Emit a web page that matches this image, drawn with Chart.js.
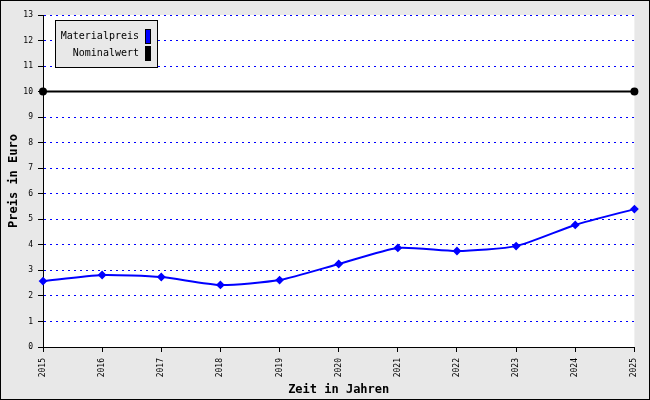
<!DOCTYPE html>
<html><head><meta charset="utf-8">
<script src="https://cdn.jsdelivr.net/npm/chart.js@4"></script>
<style>html,body{margin:0;padding:0;background:#e8e8e8}#wrap{width:650px;height:400px}</style>
</head><body><div id="wrap"><canvas id="c" width="650" height="400"></canvas></div>
<script>
const years = ['2015','2016','2017','2018','2019','2020','2021','2022','2023','2024','2025'];
const materialpreis = [2.58, 2.82, 2.74, 2.43, 2.62, 3.25, 3.88, 3.76, 3.95, 4.78, 5.40];
const nominalwert = [10, 10, 10, 10, 10, 10, 10, 10, 10, 10, 10];
const seriesNames = ['Materialpreis', 'Nominalwert'];
const yTitle = 'Preis in Euro';
const xTitle = 'Zeit in Jahren';

const MONO = "'DejaVu Sans Mono', 'Liberation Mono', monospace";

const bgPlugin = {
  id: 'bg',
  beforeDraw(chart) {
    const ctx = chart.ctx, a = chart.chartArea;
    ctx.save();
    ctx.fillStyle = '#e8e8e8';
    ctx.fillRect(0, 0, chart.width, chart.height);
    ctx.fillStyle = '#ffffff';
    ctx.fillRect(a.left, a.top, a.right - a.left, a.bottom - a.top);
    ctx.restore();
  },
  afterDraw(chart) {
    const ctx = chart.ctx;
    ctx.save();
    ctx.strokeStyle = '#000';
    ctx.lineWidth = 1;
    ctx.strokeRect(0.5, 0.5, chart.width - 1, chart.height - 1);
    // legend box
    const x0 = 55, y0 = 20, w = 102, h = 47;
    ctx.fillStyle = '#e8e8e8';
    ctx.fillRect(x0 + 0.5, y0 + 0.5, w, h);
    ctx.strokeRect(x0 + 0.5, y0 + 0.5, w, h);
    ctx.font = '10px ' + MONO;
    ctx.textAlign = 'right';
    ctx.textBaseline = 'middle';
    chart.data.datasets.forEach((ds, i) => {
      const cy = y0 + 16 + i * 17;
      ctx.fillStyle = '#000';
      ctx.fillText(ds.label, x0 + 84, cy);
      ctx.fillStyle = ds.borderColor;
      ctx.fillRect(x0 + 90, cy - 7, 6, 15);
      ctx.strokeStyle = '#000';
      ctx.strokeRect(x0 + 90.5, cy - 6.5, 5, 14);
    });
    ctx.restore();
  }
};

new Chart(document.getElementById('c'), {
  type: 'line',
  data: {
    labels: years,
    datasets: [
      {
        label: seriesNames[0],
        data: materialpreis,
        borderColor: '#0000ff',
        backgroundColor: '#0000ff',
        borderWidth: 2,
        pointStyle: 'rectRot',
        pointRadius: 3,
        pointHoverRadius: 3,
        tension: 0.2
      },
      {
        label: seriesNames[1],
        data: nominalwert,
        borderColor: '#000000',
        backgroundColor: '#000000',
        borderWidth: 2,
        pointStyle: 'circle',
        pointRadius: (ctx) => (ctx.dataIndex === 0 || ctx.dataIndex === years.length - 1) ? 3 : 0,
        tension: 0
      }
    ]
  },
  options: {
    responsive: false,
    animation: false,
    events: [],
    layout: { padding: { left: 7, top: 15, right: 10, bottom: 0 } },
    plugins: { legend: { display: false }, tooltip: { enabled: false } },
    scales: {
      x: {
        offset: false,
        afterFit(s) { s.height = 53; },
        grid: { drawOnChartArea: false, drawTicks: true, tickLength: 5, tickColor: '#000', tickWidth: 1 },
        border: { display: true, color: '#000', width: 1 },
        ticks: { color: '#000', font: { family: MONO, size: 8 }, maxRotation: 90, minRotation: 90, padding: 6 },
        title: { display: true, text: xTitle, color: '#000', font: { family: MONO, size: 12, weight: 'bold' }, padding: { top: 0, bottom: 3 } }
      },
      y: {
        min: 0, max: 13,
        afterFit(s) { s.width = 36; },
        grid: { color: '#0000ff', lineWidth: 1, drawTicks: true, tickLength: 5, tickColor: '#000', tickBorderDash: [] },
        border: { display: true, color: '#000', width: 1, dash: [2, 4] },
        ticks: { stepSize: 1, color: '#000', font: { family: MONO, size: 8 }, padding: 5 },
        title: { display: true, text: yTitle, color: '#000', font: { family: MONO, size: 12, weight: 'bold' }, padding: { top: 0, bottom: 0 } }
      }
    }
  },
  plugins: [bgPlugin]
});
</script>
</body></html>
